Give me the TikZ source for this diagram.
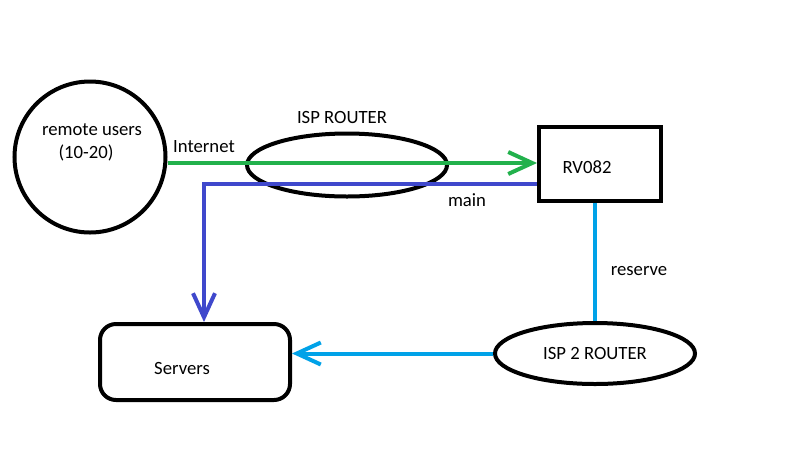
\documentclass[tikz,border=0pt]{standalone}
\usepackage{fontspec}
\setmainfont{Carlito}
\usetikzlibrary{arrows.meta,shapes.geometric}
\definecolor{pgreen}{HTML}{22B14C}
\definecolor{pblue}{HTML}{3F48CC}
\definecolor{pcyan}{HTML}{00A2E8}
\begin{document}
\begin{tikzpicture}[x=1pt,y=-1pt, font=\fontsize{18.7}{22}\selectfont,
  shapeline/.style={draw=black, line width=4pt, inner sep=0pt},
  conn/.style={line width=4pt},
  tipped/.style={-{Straight Barb[length=24pt,width=22pt]}},
  lbl/.style={inner sep=0pt}]
\useasboundingbox[fill=white] (0,0) rectangle (786,448);
% shapes
\node[shapeline, circle, minimum size=151pt] (users) at (90,157) {};
\node[lbl] (userst1) at (92,130) {remote users};
\node[lbl] (userst2) at (86,153) {(10-20)};
\node[shapeline, ellipse, minimum width=200pt, minimum height=63pt] (isp) at (347,165) {};
\node[lbl] (ispt) at (342,117) {ISP ROUTER};
\node[shapeline, rectangle, minimum width=122pt, minimum height=74pt] (rv) at (600,164) {};
\node[lbl] (rvt) at (587,167) {RV082};
\node[shapeline, rectangle, rounded corners=16pt, minimum width=190pt, minimum height=76pt] (servers) at (195,362) {};
\node[lbl] (serverst) at (182,368) {Servers};
\node[shapeline, ellipse, minimum width=200pt, minimum height=61pt] (isp2) at (595,353.5) {ISP 2 ROUTER};
% helper coordinates
\coordinate (gy) at (0,163);
\coordinate (by) at (0,184);
\coordinate (bx) at (204,0);
% connectors
\draw[conn, pgreen, tipped] (users.east |- gy) -- (rv.west |- gy);
\draw[conn, pblue, tipped] (rv.west |- by) -| (servers.north -| bx);
\draw[conn, pcyan] (rv.south -| isp2.north) -- (isp2.north);
\draw[conn, pcyan, tipped] (isp2.west) -- (servers.east |- isp2.west);
% connector labels
\node[lbl] (internet) at (204,147) {Internet};
\node[lbl] (main) at (467,200) {main};
\node[lbl] (reserve) at (639,271) {reserve};
\end{tikzpicture}
\end{document}
